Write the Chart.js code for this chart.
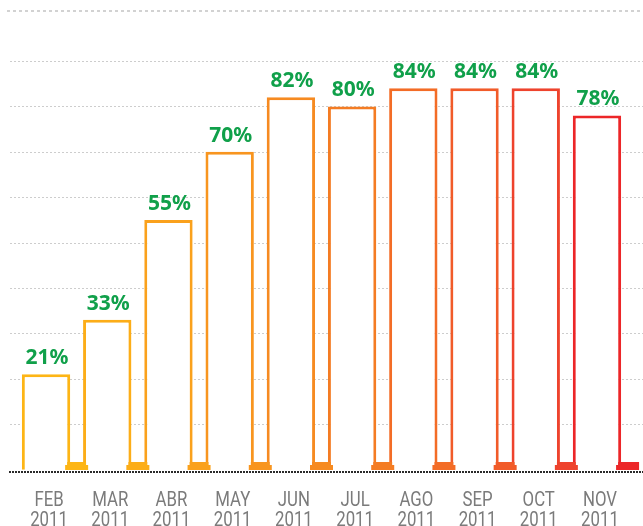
<!DOCTYPE html>
<html>
<head>
<meta charset="utf-8">
<script src="https://cdn.jsdelivr.net/npm/chart.js@4/dist/chart.umd.min.js"></script>
<style>
  html, body { margin: 0; padding: 0; background: #fff; overflow: hidden; }
  #wrap { width: 643px; height: 526px; overflow: hidden; }
</style>
</head>
<body>
<div id="wrap"><canvas id="myChart" width="643" height="552"></canvas></div>
<script>
const months = ['FEB', 'MAR', 'ABR', 'MAY', 'JUN', 'JUL', 'AGO', 'SEP', 'OCT', 'NOV'];
const years = ['2011', '2011', '2011', '2011', '2011', '2011', '2011', '2011', '2011', '2011'];
const values = [21, 33, 55, 70, 82, 80, 84, 84, 84, 78];
const barColors = ['#fdb515', '#fcad18', '#faa11c', '#f8951f', '#f68a21', '#f47c23', '#f36c26', '#f15b29', '#ee432d', '#ec2628'];
const gridValues = [10, 20, 30, 40, 50, 60, 70, 80, 90];
const topLine = 101;

// dotted grid, top rule and baseline, drawn across the whole width
const decorations = {
  id: 'decorations',
  beforeDatasetsDraw(chart) {
    const ctx = chart.ctx;
    const y = chart.scales.y;
    const area = chart.chartArea;
    ctx.save();
    ctx.strokeStyle = '#cdcdcd';
    ctx.lineWidth = 1;
    ctx.setLineDash([2, 2]);
    gridValues.forEach(v => {
      const py = Math.round(y.getPixelForValue(v)) + 0.5;
      ctx.beginPath();
      ctx.moveTo(10, py);
      ctx.lineTo(chart.width, py);
      ctx.stroke();
    });
    ctx.strokeStyle = '#d2d2d2';
    ctx.lineWidth = 2;
    ctx.setLineDash([3, 3]);
    const ty = Math.round(y.getPixelForValue(topLine));
    ctx.beginPath();
    ctx.moveTo(7, ty);
    ctx.lineTo(chart.width, ty);
    ctx.stroke();
    ctx.strokeStyle = '#2a2a2a';
    ctx.lineWidth = 2;
    ctx.setLineDash([2, 1]);
    const by = Math.round(area.bottom);
    ctx.beginPath();
    ctx.moveTo(9, by);
    ctx.lineTo(chart.width, by);
    ctx.stroke();
    ctx.restore();
  },
  afterDatasetsDraw(chart) {
    const ctx = chart.ctx;
    const x = chart.scales.x;
    const area = chart.chartArea;
    const bars = chart.getDatasetMeta(0).data;
    const catW = x.getPixelForValue(1) - x.getPixelForValue(0);
    const by = Math.round(area.bottom);
    ctx.save();
    bars.forEach((bar, i) => {
      const cx = bar.x + catW / 2;
      const right = bar.x + bar.width / 2;
      const last = i === bars.length - 1;
      const nextLeft = last ? cx + 11.5 : bars[i + 1].x - bars[i + 1].width / 2;
      ctx.fillStyle = barColors[i];
      // little foot between the bars
      ctx.fillRect(right - 3, by - 10, nextLeft - right + (last ? 3 : 6), 3);
      ctx.fillRect(cx - 11.5, by - 7, 23, 5);
    });
    ctx.fillStyle = '#10a04a';
    ctx.font = 'bold 21px "Noto Sans", sans-serif';
    ctx.textAlign = 'center';
    ctx.textBaseline = 'alphabetic';
    bars.forEach((bar, i) => {
      ctx.fillText(values[i] + '%', bar.x + 1, bar.y - 10);
    });
    ctx.restore();
  },
  afterDraw(chart) {
    // month / year labels in a narrow face
    const ctx = chart.ctx;
    const x = chart.scales.x;
    const top = chart.chartArea.bottom + 19;
    ctx.save();
    ctx.fillStyle = '#7b7b7b';
    ctx.font = '20px Roboto, sans-serif';
    ctx.textAlign = 'center';
    ctx.textBaseline = 'top';
    months.forEach((m, i) => {
      ctx.save();
      ctx.translate(x.getPixelForValue(i) + 3, top);
      ctx.scale(0.84, 1);
      ctx.fillText(m, 0, 0);
      ctx.fillText(years[i], 0, 20);
      ctx.restore();
    });
    ctx.restore();
  }
};

const ctx = document.getElementById('myChart').getContext('2d');
const myChart = new Chart(ctx, {
  type: 'bar',
  data: {
    labels: months.map((m, i) => [m, years[i]]),
    datasets: [{
      data: values,
      backgroundColor: '#ffffff',
      borderColor: barColors,
      borderWidth: 3,
      borderSkipped: 'bottom',
      barPercentage: 0.79,
      categoryPercentage: 1
    }]
  },
  options: {
    responsive: false,
    animation: false,
    devicePixelRatio: 1,
    layout: { padding: { top: 11, left: 15, right: 12, bottom: 0 } },
    plugins: {
      legend: { display: false },
      tooltip: { enabled: false }
    },
    scales: {
      x: {
        grid: { display: false, drawTicks: false },
        border: { display: false },
        ticks: {
          color: 'rgba(0,0,0,0)',
          padding: 20,
          maxRotation: 0,
          autoSkip: false,
          font: { family: '"DejaVu Sans"', size: 20, lineHeight: 1.0 }
        }
      },
      y: {
        display: false,
        min: -0.5,
        max: 101
      }
    }
  },
  plugins: [decorations]
});
</script>
</body>
</html>
